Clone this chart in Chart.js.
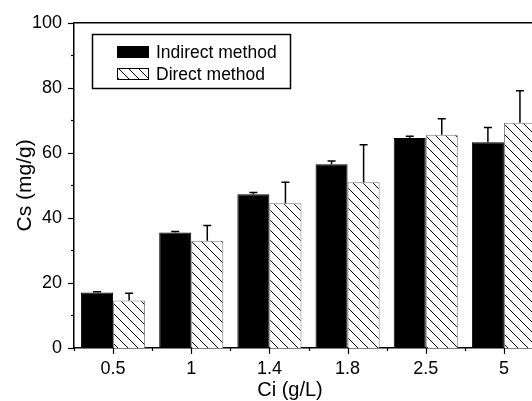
<!DOCTYPE html>
<html>
<head>
<meta charset="utf-8">
<script src="https://cdn.jsdelivr.net/npm/chart.js@4"></script>
<style>
  html, body { margin: 0; padding: 0; background: #fff; overflow: hidden; }
  #wrap { width: 560px; height: 401px; }
</style>
</head>
<body>
<div id="wrap"><canvas id="c" width="560" height="401"></canvas></div>
<script>
const categories = ['0.5', '1', '1.4', '1.8', '2.5', '5'];
const indirect = [17.1, 35.5, 47.3, 56.5, 64.6, 63.3];
const indirectErr = [0.2, 0.3, 0.5, 1.0, 0.5, 4.5];
const direct = [14.6, 33.0, 44.5, 51.0, 65.6, 69.3];
const directErr = [2.2, 4.7, 6.5, 11.5, 4.9, 9.8];
const yTicks = [0, 10, 20, 30, 40, 50, 60, 70, 80, 90, 100];

const FONT = 'Arial, "Liberation Sans", sans-serif';

// diagonal "\" hatch
function hatch() {
  const s = 10;
  const p = document.createElement('canvas');
  p.width = s; p.height = s;
  const g = p.getContext('2d');
  g.fillStyle = '#fff';
  g.fillRect(0, 0, s, s);
  g.strokeStyle = '#000';
  g.lineWidth = 1;
  g.beginPath();
  g.moveTo(-1, -1); g.lineTo(s + 1, s + 1);
  g.moveTo(-1, s - 1); g.lineTo(1, s + 1);
  g.moveTo(s - 1, -1); g.lineTo(s + 1, 1);
  g.stroke();
  return g.createPattern(p, 'repeat');
}
const hatchFill = hatch();

const errors = [indirectErr, directErr];

const errorBars = {
  id: 'errorBars',
  afterDatasetsDraw(chart) {
    const ctx = chart.ctx;
    const y = chart.scales.y;
    ctx.save();
    ctx.strokeStyle = '#000';
    ctx.lineWidth = 1.5;
    chart.data.datasets.forEach((ds, di) => {
      chart.getDatasetMeta(di).data.forEach((bar, i) => {
        const top = y.getPixelForValue(ds.data[i] + errors[di][i]);
        ctx.beginPath();
        ctx.moveTo(bar.x, bar.y);
        ctx.lineTo(bar.x, top);
        ctx.moveTo(bar.x - 4, top);
        ctx.lineTo(bar.x + 4, top);
        ctx.stroke();
      });
    });
    ctx.restore();
  }
};

const frame = {
  id: 'frame',
  afterDraw(chart) {
    const ctx = chart.ctx;
    const a = chart.chartArea;
    const x = chart.scales.x, y = chart.scales.y;
    ctx.save();
    ctx.strokeStyle = '#000';
    ctx.lineWidth = 1.5;
    // top frame line
    ctx.beginPath();
    ctx.moveTo(a.left, a.top);
    ctx.lineTo(a.right, a.top);
    ctx.stroke();
    ctx.lineWidth = 1.2;
    // y ticks, major every 20
    yTicks.forEach(v => {
      const py = Math.round(y.getPixelForValue(v)) + 0.5;
      const len = v % 20 === 0 ? 6 : 3;
      ctx.beginPath();
      ctx.moveTo(a.left - len, py);
      ctx.lineTo(a.left, py);
      ctx.stroke();
    });
    // x ticks: major at centers, minor at boundaries
    categories.forEach((c, i) => {
      const px = Math.round(x.getPixelForValue(i)) + 0.5;
      ctx.beginPath();
      ctx.moveTo(px, a.bottom);
      ctx.lineTo(px, a.bottom + 6);
      const half = (x.getPixelForValue(1) - x.getPixelForValue(0)) / 2;
      const bx = Math.round(x.getPixelForValue(i) - half) + 0.5;
      ctx.moveTo(bx, a.bottom);
      ctx.lineTo(bx, a.bottom + 3);
      ctx.stroke();
    });

    // axis titles
    ctx.fillStyle = '#000';
    ctx.font = '20px ' + FONT;
    ctx.textAlign = 'center';
    ctx.textBaseline = 'middle';
    ctx.fillText('Ci (g/L)', 290, 390);
    ctx.save();
    ctx.translate(25, (a.top + a.bottom) / 2);
    ctx.rotate(-Math.PI / 2);
    ctx.font = '21px ' + FONT;
    ctx.fillText('Cs (mg/g)', 0, 0);
    ctx.restore();

    // legend box
    ctx.lineWidth = 1.5;
    ctx.strokeRect(92.5, 34.5, 198, 54);
    ctx.font = '17.5px ' + FONT;
    ctx.textAlign = 'left';
    chart.data.datasets.forEach((ds, i) => {
      const cy = 52 + i * 22;
      ctx.fillStyle = ds.backgroundColor;
      ctx.fillRect(117, cy - 6, 32, 12);
      ctx.lineWidth = 1;
      ctx.strokeStyle = '#000';
      ctx.strokeRect(117.5, cy - 5.5, 31, 11);
      ctx.fillStyle = '#000';
      ctx.fillText(ds.label, 156, cy + 1);
    });
    ctx.restore();
  }
};

new Chart(document.getElementById('c'), {
  type: 'bar',
  data: {
    labels: categories,
    datasets: [
      {
        label: 'Indirect method',
        data: indirect,
        backgroundColor: '#000',
        borderColor: '#000',
        borderWidth: 1,
      },
      {
        label: 'Direct method',
        data: direct,
        backgroundColor: hatchFill,
        borderColor: '#777',
        borderWidth: 1,
      },
    ]
  },
  options: {
    responsive: false,
    animation: false,
    events: [],
    layout: { padding: { top: 22, right: 17, left: 0, bottom: 0 } },
    datasets: { bar: { barPercentage: 1, categoryPercentage: 0.82 } },
    plugins: { legend: { display: false }, tooltip: { enabled: false } },
    scales: {
      x: {
        offset: true,
        grid: { display: false, drawTicks: false },
        border: { display: true, color: '#000', width: 1.5 },
        ticks: { color: '#000', font: { size: 18, family: FONT }, padding: 10, maxRotation: 0 },
        afterFit: s => { s.height = 53; }
      },
      y: {
        min: 0, max: 100,
        grid: { display: false, drawTicks: false },
        border: { display: true, color: '#000', width: 1.5 },
        ticks: { stepSize: 20, color: '#000', font: { size: 18, family: FONT }, padding: 12 },
        afterFit: s => { s.width = 74; }
      }
    }
  },
  plugins: [errorBars, frame]
});
</script>
</body>
</html>
